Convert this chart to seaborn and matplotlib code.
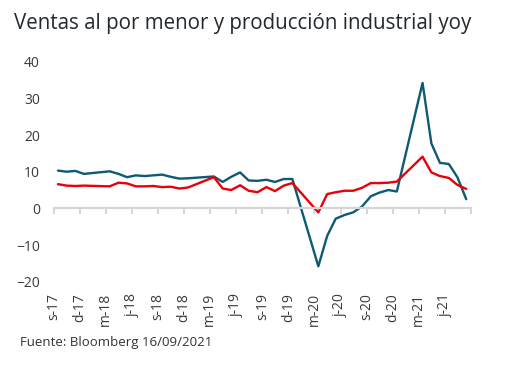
import pandas as pd
import seaborn as sns
import matplotlib.pyplot as plt
import matplotlib.dates as mdates

# Monthly data (Jan/Feb are reported together, so they are missing)
months = ['2017-09', '2017-10', '2017-11', '2017-12',
          '2018-03', '2018-04', '2018-05', '2018-06', '2018-07', '2018-08',
          '2018-09', '2018-10', '2018-11', '2018-12',
          '2019-03', '2019-04', '2019-05', '2019-06', '2019-07', '2019-08',
          '2019-09', '2019-10', '2019-11', '2019-12',
          '2020-03', '2020-04', '2020-05', '2020-06', '2020-07', '2020-08',
          '2020-09', '2020-10', '2020-11', '2020-12',
          '2021-03', '2021-04', '2021-05', '2021-06', '2021-07', '2021-08']

ventas = [10.3, 10.0, 10.2, 9.4,
          10.1, 9.4, 8.5, 9.0, 8.8, 9.0, 9.2, 8.6, 8.1, 8.2,
          8.7, 7.2, 8.6, 9.8, 7.6, 7.5, 7.8, 7.2, 8.0, 8.0,
          -15.8, -7.5, -2.8, -1.8, -1.1, 0.5, 3.3, 4.3, 5.0, 4.6,
          34.2, 17.7, 12.4, 12.1, 8.5, 2.5]

produccion = [6.6, 6.2, 6.1, 6.2,
              6.0, 7.0, 6.8, 6.0, 6.0, 6.1, 5.8, 5.9, 5.4, 5.7,
              8.5, 5.4, 5.0, 6.3, 4.8, 4.4, 5.8, 4.7, 6.2, 6.9,
              -1.1, 3.9, 4.4, 4.8, 4.8, 5.6, 6.9, 6.9, 7.0, 7.3,
              14.1, 9.8, 8.8, 8.3, 6.4, 5.3]

tick_months = pd.date_range('2017-09-01', '2021-09-01', freq='3MS')
tick_labels = ['s-17', 'd-17', 'm-18', 'j-18', 's-18', 'd-18', 'm-19', 'j-19',
               's-19', 'd-19', 'm-20', 'j-20', 's-20', 'd-20', 'm-21', 'j-21', '']

# long format for seaborn, points plotted mid-month
fechas = pd.to_datetime(months) + pd.Timedelta(days=14)
df = pd.DataFrame({'fecha': list(fechas) * 2,
                   'valor': ventas + produccion,
                   'serie': ['Ventas'] * len(ventas) + ['Produccion'] * len(produccion)})

sns.set_style('white')
plt.rcParams['font.family'] = ['Open Sans', 'DejaVu Sans']

fig = plt.figure(figsize=(5.24, 3.67), dpi=100)
ax = fig.add_axes([0.103, 0.2324, 0.796, 0.5996])

sns.lineplot(data=df, x='fecha', y='valor', hue='serie',
             palette={'Ventas': '#0d5a72', 'Produccion': '#e8000b'},
             linewidth=1.7, legend=False, ax=ax)

ax.set_xlim(pd.Timestamp('2017-09-01'), pd.Timestamp('2021-09-01'))
ax.set_ylim(-20, 40)
ax.set_yticks([-20, -10, 0, 10, 20, 30, 40])
ax.set_xlabel('')
ax.set_ylabel('')

for s in ['top', 'right', 'left']:
    ax.spines[s].set_visible(False)
ax.spines['bottom'].set_position(('data', 0))
ax.spines['bottom'].set_color('#d6d6d6')
ax.spines['bottom'].set_linewidth(1.6)

ax.set_xticks(tick_months)
ax.tick_params(axis='x', direction='out', length=4.5, width=1.4,
               color='#d6d6d6', labelbottom=False, bottom=True)
ax.tick_params(axis='y', length=0, pad=10, labelsize=10, labelcolor='#3a3a3a')

# labels at the bottom of the plot
sec = ax.secondary_xaxis('bottom')
sec.set_xticks(tick_months)
sec.set_xticklabels(tick_labels, rotation=90, fontsize=10, color='#3a3a3a')
sec.tick_params(length=0, pad=8)
sec.spines['bottom'].set_visible(False)

fig.text(0.027, 0.922, 'Ventas al por menor y producción industrial yoy',
         fontsize=14.8, color='#222a30', va='baseline')
fig.text(0.038, 0.057, 'Fuente: Bloomberg 16/09/2021',
         fontsize=9.5, color='#333333', va='baseline')

fig.savefig('out.png', dpi=100)
